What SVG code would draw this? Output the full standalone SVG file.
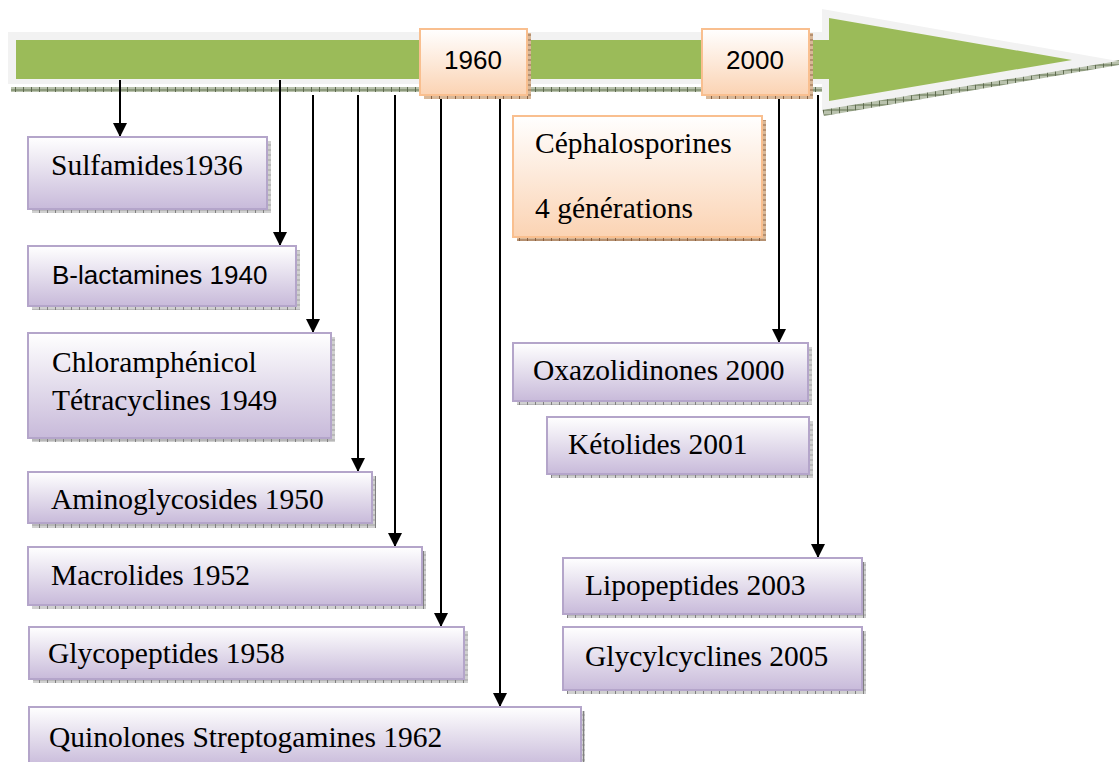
<svg xmlns="http://www.w3.org/2000/svg" width="1119" height="762" viewBox="0 0 1119 762">
<defs>
<linearGradient id="gPurple" x1="0" y1="0" x2="0" y2="1">
<stop offset="0" stop-color="#ffffff"/>
<stop offset="0.45" stop-color="#e6e0ee"/>
<stop offset="1" stop-color="#c8bada"/>
</linearGradient>
<linearGradient id="gPeach" x1="0" y1="0" x2="0" y2="1">
<stop offset="0" stop-color="#ffffff"/>
<stop offset="1" stop-color="#fbd3b3"/>
</linearGradient>
<pattern id="hGray" width="8" height="5" patternUnits="userSpaceOnUse">
<rect width="8" height="5" fill="#b8b8b8"/>
<rect x="0" y="1" width="8" height="3" fill="#d0d0d0"/>
<rect x="7" y="0" width="1" height="5" fill="#808080"/>
</pattern>
<pattern id="hGreen" width="8" height="5" patternUnits="userSpaceOnUse">
<rect width="8" height="5" fill="#8e9b7e"/>
<rect x="0" y="1" width="8" height="3" fill="#b9c2ad"/>
<rect x="7" y="0" width="1" height="5" fill="#5f6b50"/>
</pattern>
<pattern id="hBrown" width="8" height="5" patternUnits="userSpaceOnUse">
<rect width="8" height="5" fill="#b59070"/>
<rect x="0" y="1" width="8" height="3" fill="#d9b898"/>
<rect x="7" y="0" width="1" height="5" fill="#8a6040"/>
</pattern>
<marker id="arr" markerWidth="14" markerHeight="14" refX="14" refY="7" orient="auto" markerUnits="userSpaceOnUse" viewBox="0 0 14 14">
<path d="M0,0 L14,7 L0,14 Z" fill="#000"/>
</marker>
<style>
.box{fill:url(#gPurple);stroke:#b4a5ca;stroke-width:2}
.pbox{fill:url(#gPeach);stroke:#f9bf8f;stroke-width:2}
.sh{fill:url(#hGray)}
.psh{fill:url(#hBrown)}
.t{font-family:"Liberation Serif","Times New Roman",serif;font-size:29.5px;fill:#000}
.s{font-family:"Liberation Sans",Arial,sans-serif;font-size:26px;fill:#000}
.c{stroke:#000;stroke-width:2;fill:none;marker-end:url(#arr)}
</style>
</defs>
<rect width="1119" height="762" fill="#ffffff"/>

<g id="timeline">
<rect x="11" y="87" width="812" height="5" fill="url(#hGreen)"/>
<polygon points="822,108 1119,60 1119,65 824,116" fill="url(#hGreen)"/>
<polygon points="8,32 822,32 822,9 1118,61 822,110 822,84 8,84" fill="#f2f2f2"/>
<polygon points="16,40 829,40 829,18 1072,60 829,101 829,79 16,79" fill="#9bbb59"/>
</g>

<g id="connectors">
<line class="c" x1="120" y1="80" x2="120" y2="137"/>
<line class="c" x1="280" y1="80" x2="280" y2="246"/>
<line class="c" x1="313" y1="95" x2="313" y2="333"/>
<line class="c" x1="358" y1="95" x2="358" y2="472"/>
<line class="c" x1="395" y1="95" x2="395" y2="547"/>
<line class="c" x1="441" y1="97" x2="441" y2="627"/>
<line class="c" x1="500" y1="97" x2="500" y2="707"/>
<line class="c" x1="779" y1="97" x2="779" y2="343"/>
<line class="c" x1="818" y1="95" x2="818" y2="558"/>
</g>

<g id="y1960">
<rect class="psh" x="424" y="33" width="107" height="66"/>
<rect class="pbox" x="420" y="29" width="107" height="66"/>
<text class="s" x="473" y="69" text-anchor="middle">1960</text>
</g>
<g id="y2000">
<rect class="psh" x="706" y="33" width="107" height="66"/>
<rect class="pbox" x="702" y="29" width="107" height="66"/>
<text class="s" x="755" y="69" text-anchor="middle">2000</text>
</g>

<g id="sulfamides">
<rect class="sh" x="32" y="141" width="239" height="72"/>
<rect class="box" x="28" y="137" width="239" height="72"/>
<text class="t" x="51" y="175">Sulfamides1936</text>
</g>
<g id="blactamines">
<rect class="sh" x="32" y="250" width="268" height="60"/>
<rect class="box" x="28" y="246" width="268" height="60"/>
<text class="s" x="52" y="284">B-lactamines 1940</text>
</g>
<g id="chloramphenicol">
<rect class="sh" x="32" y="337" width="303" height="105"/>
<rect class="box" x="28" y="333" width="303" height="105"/>
<text class="t" x="52" y="372">Chloramphénicol</text>
<text class="t" x="52" y="410">Tétracyclines 1949</text>
</g>
<g id="aminoglycosides">
<rect class="sh" x="32" y="476" width="344" height="52"/>
<rect class="box" x="28" y="472" width="344" height="51"/>
<text class="t" x="51" y="509">Aminoglycosides 1950</text>
</g>
<g id="macrolides">
<rect class="sh" x="32" y="551" width="394" height="58"/>
<rect class="box" x="28" y="547" width="394" height="58"/>
<text class="t" x="51" y="585">Macrolides 1952</text>
</g>
<g id="glycopeptides">
<rect class="sh" x="33" y="631" width="435" height="52"/>
<rect class="box" x="29" y="627" width="435" height="52"/>
<text class="t" x="48" y="663">Glycopeptides 1958</text>
</g>
<g id="quinolones">
<rect class="sh" x="33" y="711" width="552" height="60"/>
<rect class="box" x="29" y="707" width="552" height="60"/>
<text class="t" x="49" y="747">Quinolones Streptogamines 1962</text>
</g>
<g id="cephalosporines">
<rect class="psh" x="517" y="120" width="249" height="121"/>
<rect class="pbox" x="513" y="116" width="249" height="121"/>
<text class="t" x="535" y="153">Céphalosporines</text>
<text class="t" x="535" y="218">4 générations</text>
</g>
<g id="oxazolidinones">
<rect class="sh" x="517" y="347" width="295" height="58"/>
<rect class="box" x="513" y="343" width="295" height="58"/>
<text class="t" x="533" y="380">Oxazolidinones 2000</text>
</g>
<g id="ketolides">
<rect class="sh" x="551" y="421" width="262" height="57"/>
<rect class="box" x="547" y="417" width="262" height="57"/>
<text class="t" x="568" y="454">Kétolides 2001</text>
</g>
<g id="lipopeptides">
<rect class="sh" x="567" y="562" width="299" height="56"/>
<rect class="box" x="563" y="558" width="299" height="56"/>
<text class="t" x="585" y="595">Lipopeptides 2003</text>
</g>
<g id="glycylcyclines">
<rect class="sh" x="567" y="631" width="299" height="63"/>
<rect class="box" x="563" y="627" width="299" height="63"/>
<text class="t" x="585" y="666">Glycylcyclines 2005</text>
</g>
</svg>
